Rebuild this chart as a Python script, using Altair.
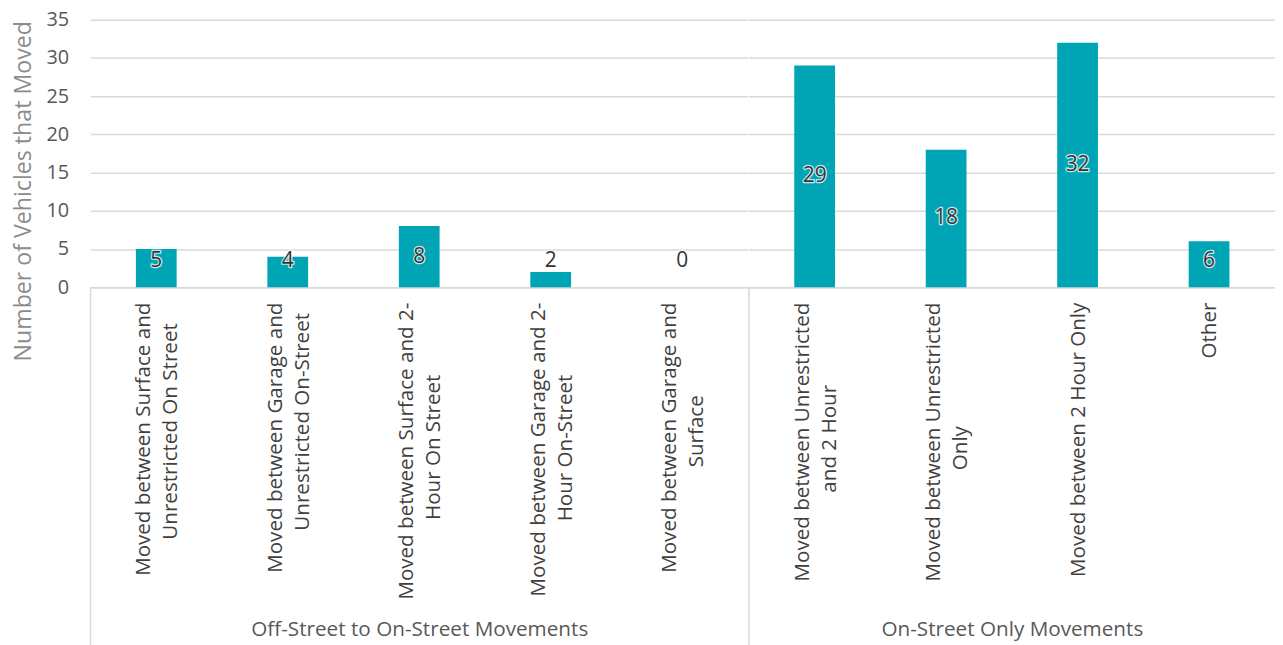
import altair as alt
import pandas as pd

groups = ["Off-Street to On-Street Movements"] * 5 + ["On-Street Only Movements"] * 4
categories = [
    "Moved between Surface and|Unrestricted On Street",
    "Moved between Garage and|Unrestricted On-Street",
    "Moved between Surface and 2-|Hour On Street",
    "Moved between Garage and 2-|Hour On-Street",
    "Moved between Garage and|Surface",
    "Moved between Unrestricted|and 2 Hour",
    "Moved between Unrestricted|Only",
    "Moved between 2 Hour Only",
    "Other",
]
values = [5, 4, 8, 2, 0, 29, 18, 32, 6]
y_ticks = [0, 5, 10, 15, 20, 25, 30, 35]

df = pd.DataFrame({"group": groups, "category": categories, "value": values})

STEP = 132.2
H = 269
BAR = "#00A5B5"
GRID = "#D9D9D9"
FONT = "Open Sans"
LH = 27
SP = "\u2002"   # en space, used to centre the shorter line
ZW = "\u200b"   # zero-width char so the spaces are not trimmed
group_names = ["Off-Street to On-Street Movements", "On-Street Only Movements"]

parts = "split(datum.label, '|')"
label_expr = (
    f"length({parts}) > 1 ? ["
    f"{parts}[0] + pad('', max(0, round(0.53 * (length({parts}[1]) - length({parts}[0])))), '{SP}') + '{ZW}', "
    f"{parts}[1] + pad('', max(0, round(0.53 * (length({parts}[0]) - length({parts}[1])))), '{SP}') + '{ZW}'"
    f"] : datum.label"
)


def panel(gname, first):
    sub = df[df.group == gname].reset_index(drop=True)
    cats = list(sub.category)
    n = len(cats)
    xaxis = alt.Axis(
        title=gname, labelAngle=-90, labelExpr=label_expr,
        labelFont=FONT, labelFontSize=20.7, labelColor="#404040", labelPadding=15,
        labelOffset={"condition": {"test": "indexof(datum.value, '|') >= 0", "value": -12}, "value": 1},
        labelLineHeight=LH, labelLimit=500, ticks=False, domainColor=GRID, domainWidth=1.5,
        titleFont=FONT, titleFontSize=20.8, titleColor="#595959", titleFontWeight="normal",
        titleY=344, titleBaseline="middle",
    )
    if first:
        yaxis = alt.Axis(
            title="Number of Vehicles that Moved", values=y_ticks, grid=True,
            gridColor=GRID, gridWidth=1.5, domain=False, ticks=False,
            labelFont=FONT, labelFontSize=20, labelColor="#595959", labelPadding=22,
            titleFont=FONT, titleFontSize=23.3, titleColor="#8C8C8C", titleFontWeight="normal",
            titlePadding=11, titleY=172,
        )
    else:
        yaxis = alt.Axis(title=None, values=y_ticks, grid=True, gridColor=GRID, gridWidth=1.5,
                         domain=False, ticks=False, labels=False)
    x = alt.X("category:N", sort=cats,
              scale=alt.Scale(paddingInner=0.69, paddingOuter=0.345), axis=xaxis)
    yscale = alt.Scale(domain=[0, 35])
    base = alt.Chart(sub).encode(x=x)
    bars = base.mark_bar(color=BAR).encode(y=alt.Y("value:Q", scale=yscale, axis=yaxis))
    lab = base.transform_calculate(pos="max(datum.value / 2, 3.4)")
    halo = lab.mark_text(font=FONT, fontSize=21, stroke="white", strokeWidth=2.5, strokeOpacity=0.75,
                         strokeJoin="round", fill="white", baseline="middle").encode(
        y=alt.Y("pos:Q", scale=yscale, axis=yaxis), text="value:Q")
    txt = lab.mark_text(font=FONT, fontSize=21, color="#333333", baseline="middle").encode(
        y=alt.Y("pos:Q", scale=yscale, axis=yaxis), text="value:Q")
    sep = alt.Chart(pd.DataFrame({"g": [gname]})).mark_rule(color=GRID, strokeWidth=1.5).encode(
        x=alt.value(0), y=alt.value(H), y2=alt.value(H + 360))
    return alt.layer(bars, halo, txt, sep).properties(width=STEP * n, height=H)


chart = alt.hconcat(panel(group_names[0], True), panel(group_names[1], False), spacing=0).properties(
    padding={"left": 3, "top": 0, "right": 0, "bottom": 0}
).configure_view(strokeWidth=0)

chart.save("out.html", embed_options={"renderer": "svg", "actions": False})
